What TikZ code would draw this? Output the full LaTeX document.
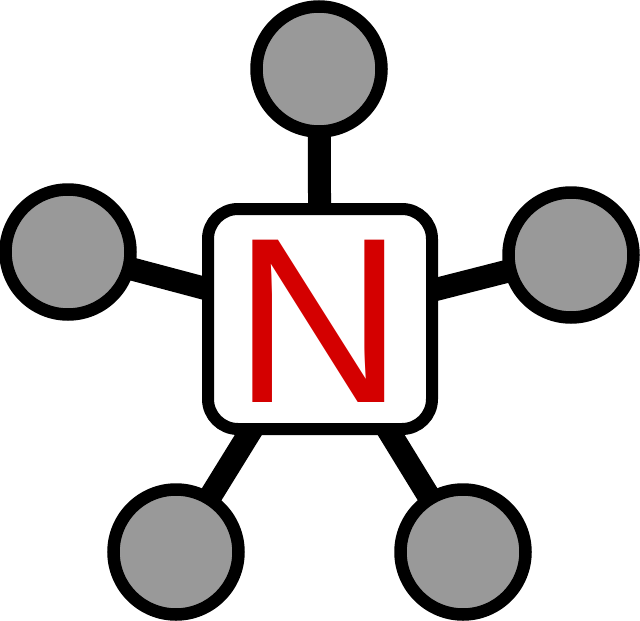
\documentclass[tikz,border=0pt]{standalone}
\usepackage{fontspec}
\setmainfont{Liberation Sans}
\usetikzlibrary{backgrounds}
\definecolor{nred}{HTML}{D40000}
\definecolor{ngray}{HTML}{999999}
\tikzset{
  leaf/.style={circle, draw=black, fill=ngray, line width=12.5pt, minimum size=125pt, inner sep=0pt},
  hub/.style={rectangle, draw=black, fill=white, line width=12pt, rounded corners=30pt, minimum width=224pt, minimum height=220pt, inner sep=0pt},
  spoke/.style={draw=black, line width=23pt},
  letter/.style={inner sep=0pt, anchor=base, text=nred, font=\fontsize{236}{236}\selectfont}
}
\begin{document}
\begin{tikzpicture}[x=1pt,y=-1pt]
\useasboundingbox (0,0) rectangle (640,621);
\node[hub] (box) at (320,319) {};
\node[letter] (lbl) at (318.5,402) {N};
\node[leaf] (top) at (319,69) {};
\node[leaf] (left) at (68,252) {};
\node[leaf] (right) at (571,255) {};
\node[leaf] (bl) at (176,552) {};
\node[leaf] (br) at (463,552) {};
\begin{scope}[on background layer]
\draw[spoke] (box.center) -- (top.center);
\draw[spoke] (box.center) -- (left.center);
\draw[spoke] (box.center) -- (right.center);
\draw[spoke] (box.center) -- (bl.center);
\draw[spoke] (box.center) -- (br.center);
\end{scope}
\end{tikzpicture}
\end{document}
